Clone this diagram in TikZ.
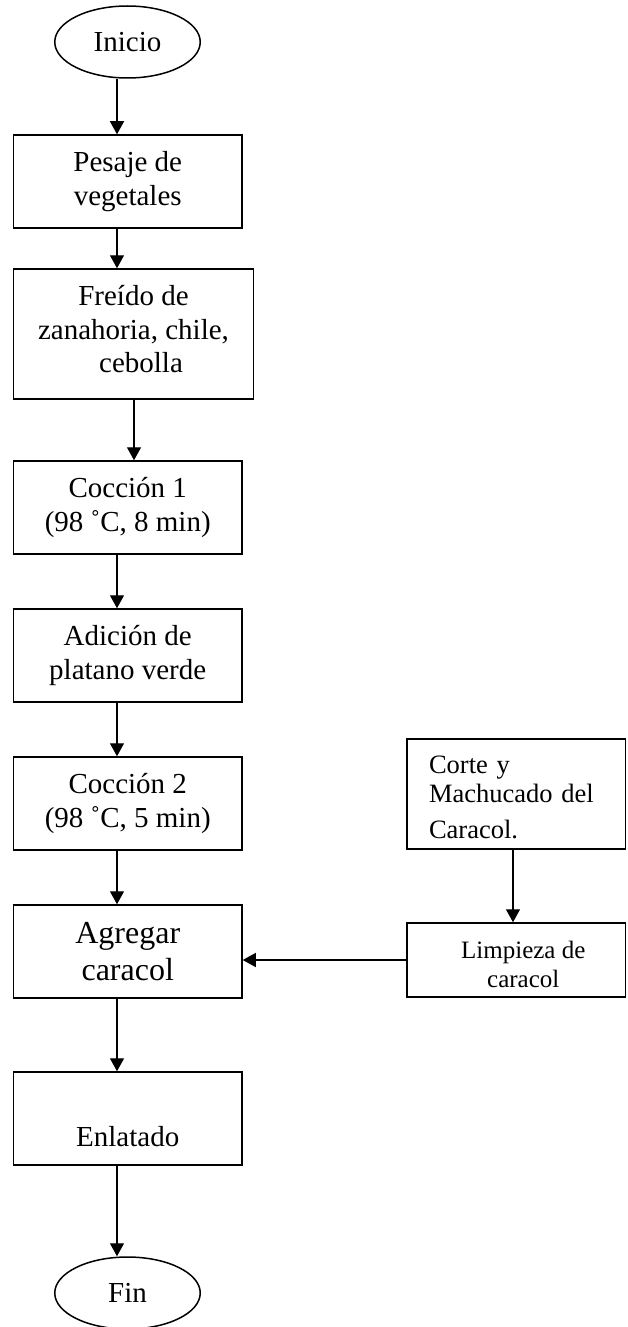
\documentclass[tikz,border=0pt]{standalone}
\usepackage{fontspec}
\setmainfont{Liberation Serif}
\usetikzlibrary{shapes.geometric,arrows.meta,calc}
\begin{document}
\begin{tikzpicture}[
  box/.style={draw, line width=1.5pt, rectangle, inner sep=0pt, align=center,
    font=\fontsize{29}{33.5}\selectfont},
  stdbox/.style={box, minimum width=228.5pt, minimum height=93pt},
  term/.style={draw, ellipse, line width=1.5pt, inner sep=0pt,
    minimum width=145.5pt, minimum height=72pt, font=\fontsize{29}{33.5}\selectfont},
  arr/.style={line width=1.3pt, -{Triangle[length=13pt,width=14pt]}}
]
\useasboundingbox (0,0) rectangle (627pt,-1327pt);

\node[term] (inicio) at (127.5pt,-42pt) {Inicio};
\node[stdbox] (pesaje) at (127.75pt,-181.5pt) {Pesaje de\\vegetales};
\node[box, minimum width=240pt, minimum height=130pt] (freido) at (133.5pt,-334pt)
  {Freído de\\zanahoria, chile,\\\hspace*{15pt}cebolla\rule[-10pt]{0pt}{10pt}};
\node[stdbox] (coc1) at (127.75pt,-507.5pt) {Cocción 1\\(98 ˚C, 8 min)};
\node[stdbox] (adic) at (127.75pt,-655.5pt) {Adición de\\platano verde};
\node[stdbox] (coc2) at (127.75pt,-803.5pt) {Cocción 2\\(98 ˚C, 5 min)};
\node[stdbox, font=\fontsize{32}{37}\selectfont] (agr) at (127.75pt,-951.5pt) {Agregar\\caracol};
\node[stdbox] (enl) at (127.75pt,-1118.5pt) {\strut\\Enlatado};
\node[term] (fin) at (127.5pt,-1293pt) {Fin};

\node[box, align=left, text width=174.5pt, inner xsep=22pt, minimum height=110pt,
  font=\fontsize{26.5}{29}\selectfont] (corte) at (516.25pt,-794pt)
  {\rule{0pt}{25pt}Corte y\\Machucado del\\[6.7pt]Caracol.};
\node[box, minimum width=218.5pt, minimum height=74pt,
  font=\fontsize{25}{29}\selectfont] (limp) at (516.25pt,-960pt)
  {\hspace*{14pt}\rule{0pt}{27pt}Limpieza de\\\hspace*{14pt}caracol};

\coordinate (xa) at (117pt,0);
\coordinate (xb) at (134pt,0);
\coordinate (xc) at (513pt,0);

\draw[arr] (inicio.south -| xa) -- (pesaje.north -| xa);
\draw[arr] (pesaje.south -| xa) -- (freido.north -| xa);
\draw[arr] (freido.south -| xb) -- (coc1.north -| xb);
\draw[arr] (coc1.south -| xa) -- (adic.north -| xa);
\draw[arr] (adic.south -| xa) -- (coc2.north -| xa);
\draw[arr] (coc2.south -| xa) -- (agr.north -| xa);
\draw[arr] (agr.south -| xa) -- (enl.north -| xa);
\draw[arr] (enl.south -| xa) -- (fin.north -| xa);
\draw[arr] (corte.south -| xc) -- (limp.north -| xc);
\draw[arr] (limp.west) -- (limp.west -| agr.east);
\end{tikzpicture}
\end{document}
